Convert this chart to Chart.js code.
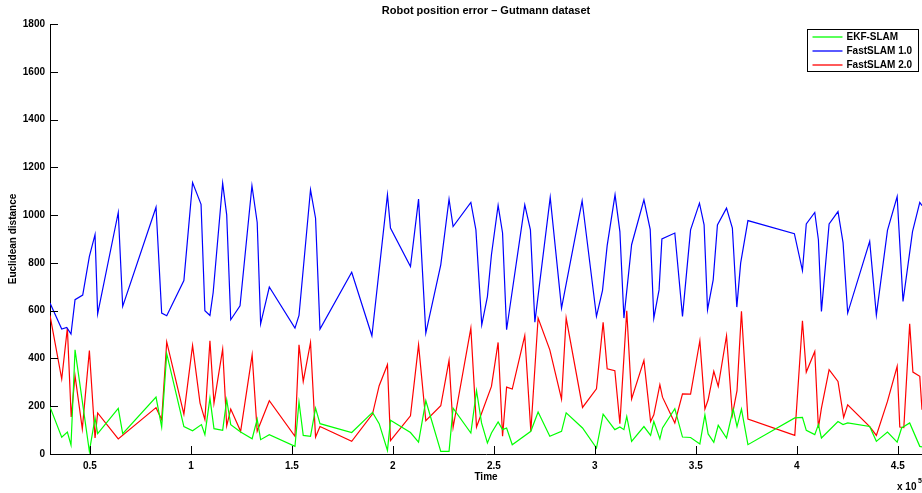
<!DOCTYPE html>
<html>
<head>
<meta charset="utf-8">
<script src="https://cdn.jsdelivr.net/npm/chart.js@4.4.1/dist/chart.umd.min.js"></script>
<style>
  html, body { margin: 0; padding: 0; background: #fff; }
  #wrap { width: 922px; height: 493px; }
</style>
</head>
<body>
<div id="wrap"><canvas id="errChart" width="922" height="493"></canvas></div>
<script>
// Time values are in units of 1e5
const xTicks = [0.5, 1, 1.5, 2, 2.5, 3, 3.5, 4, 4.5];
const yTicks = [0, 200, 400, 600, 800, 1000, 1200, 1400, 1600, 1800];

const ekfX = [0.302,0.36,0.388,0.406,0.426,0.497,0.525,0.538,0.64,0.662,0.827,0.855,0.88,0.965,1.008,1.052,1.069,1.094,1.114,1.157,1.177,1.197,1.246,1.303,1.328,1.345,1.388,1.515,1.535,1.556,1.592,1.617,1.639,1.796,1.899,1.932,1.973,1.988,2.087,2.127,2.163,2.237,2.278,2.298,2.386,2.414,2.439,2.468,2.488,2.521,2.543,2.563,2.591,2.683,2.719,2.777,2.835,2.858,2.939,3.008,3.041,3.099,3.124,3.144,3.158,3.182,3.243,3.276,3.292,3.322,3.335,3.396,3.434,3.474,3.52,3.545,3.561,3.589,3.611,3.652,3.685,3.704,3.726,3.758,3.99,4.028,4.047,4.089,4.107,4.122,4.204,4.229,4.252,4.361,4.394,4.449,4.497,4.519,4.559,4.609,4.62];
const ekfY = [197,70,92,38,436,11,151,85,191,85,238,113,420,115,97,123,81,234,106,99,227,123,92,64,146,60,81,32,218,78,74,192,127,90,174,127,15,141,90,50,223,11,11,192,88,265,130,46,88,134,102,109,39,95,176,74,95,172,109,25,167,102,113,102,157,53,115,78,136,63,109,190,71,69,42,164,84,49,120,67,188,115,188,39,151,153,99,81,123,67,136,123,130,115,53,92,50,109,130,32,30];

const fs1X = [0.302,0.36,0.385,0.406,0.426,0.464,0.497,0.525,0.538,0.64,0.662,0.827,0.855,0.88,0.965,1.008,1.05,1.069,1.094,1.11,1.157,1.177,1.197,1.243,1.302,1.328,1.345,1.388,1.515,1.535,1.592,1.617,1.639,1.796,1.896,1.973,1.988,2.087,2.127,2.163,2.237,2.278,2.298,2.386,2.411,2.44,2.468,2.488,2.521,2.543,2.563,2.653,2.681,2.703,2.779,2.835,2.937,3.008,3.038,3.061,3.1,3.124,3.144,3.182,3.243,3.274,3.292,3.318,3.332,3.396,3.434,3.474,3.518,3.541,3.558,3.586,3.607,3.652,3.681,3.703,3.722,3.758,3.988,4.028,4.047,4.089,4.107,4.122,4.16,4.204,4.229,4.252,4.361,4.394,4.449,4.497,4.526,4.573,4.609,4.62];
const fs1Y = [632,523,530,502,646,665,827,918,587,1011,618,1033,590,579,726,1136,1045,600,580,676,1134,1001,562,620,1123,969,545,699,527,580,1106,987,523,761,495,1085,946,785,1067,506,792,1067,952,1053,938,541,659,834,1041,925,520,1043,938,552,1074,611,1060,576,685,872,1085,931,569,876,1064,940,569,687,900,925,576,938,1050,959,604,729,959,1029,946,615,799,977,922,768,963,1011,897,597,963,1015,885,590,890,582,936,1078,639,931,1053,1040];

const fs2X = [0.302,0.36,0.388,0.407,0.426,0.462,0.497,0.525,0.538,0.64,0.827,0.855,0.88,0.965,1.008,1.045,1.069,1.094,1.114,1.157,1.177,1.197,1.246,1.303,1.328,1.388,1.515,1.535,1.556,1.592,1.617,1.639,1.796,1.899,1.932,1.973,1.988,2.087,2.127,2.163,2.237,2.278,2.298,2.386,2.414,2.488,2.521,2.543,2.563,2.591,2.653,2.683,2.719,2.777,2.835,2.858,2.939,3.008,3.041,3.061,3.099,3.124,3.158,3.182,3.243,3.276,3.292,3.322,3.335,3.396,3.434,3.474,3.52,3.545,3.561,3.589,3.611,3.652,3.681,3.704,3.726,3.758,3.99,4.028,4.047,4.089,4.107,4.122,4.16,4.204,4.232,4.252,4.361,4.394,4.449,4.497,4.51,4.53,4.559,4.575,4.609,4.62];
const fs2Y = [580,314,527,155,328,105,433,67,172,63,194,144,469,167,454,213,144,474,213,439,118,188,95,415,95,223,74,457,304,467,71,115,53,167,286,374,56,160,457,139,202,392,111,527,113,283,467,74,280,272,496,95,569,436,230,569,195,273,551,357,349,127,600,230,392,136,164,290,238,130,252,251,474,188,227,346,283,495,164,265,597,146,78,558,343,429,109,192,353,304,153,206,115,78,220,367,113,111,545,343,325,185];

const seriesNames = ['EKF-SLAM', 'FastSLAM 1.0', 'FastSLAM 2.0'];
const seriesColors = ['rgb(0,255,0)', 'rgb(0,0,255)', 'rgb(255,0,0)'];

const FONT = '"Liberation Sans", Arial, sans-serif';

function toPoints(xs, ys) {
    return xs.map((x, i) => ({ x: x, y: ys[i] }));
}

// draws inward ticks, title, axis labels, exponent and the legend box
const matlabLook = {
    id: 'matlabLook',
    afterDraw(chart) {
        const c = chart.ctx;
        const area = chart.chartArea;
        const xs = chart.scales.x;
        const ys = chart.scales.y;
        c.save();
        c.strokeStyle = '#000';
        c.lineWidth = 1;
        c.beginPath();
        xTicks.forEach(v => {
            const px = Math.round(xs.getPixelForValue(v)) + 0.5;
            c.moveTo(px, area.bottom);
            c.lineTo(px, area.bottom - 8);
        });
        yTicks.forEach(v => {
            const py = Math.round(ys.getPixelForValue(v)) + 0.5;
            c.moveTo(area.left, py);
            c.lineTo(area.left + 8, py);
        });
        c.stroke();

        c.fillStyle = '#000';
        c.textAlign = 'center';
        c.textBaseline = 'middle';
        c.font = 'bold 11px ' + FONT;
        c.fillText('Robot position error \u2013 Gutmann dataset', (area.left + area.right) / 2, 11);

        c.font = 'bold 10px ' + FONT;
        c.fillText('Time', (area.left + area.right) / 2, 477);

        c.save();
        c.translate(13, (area.top + area.bottom) / 2);
        c.rotate(-Math.PI / 2);
        c.fillText('Euclidean distance', 0, 0);
        c.restore();

        c.textAlign = 'left';
        c.fillText('x 10', 897, 487);
        c.font = 'bold 7px ' + FONT;
        c.fillText('5', 918, 481);

        // legend
        const lx = 807.5, ly = 29.5, lw = 111, lh = 42;
        c.fillStyle = '#fff';
        c.fillRect(lx, ly, lw, lh);
        c.strokeStyle = '#000';
        c.lineWidth = 1;
        c.strokeRect(lx, ly, lw, lh);
        c.font = 'bold 10px ' + FONT;
        for (let i = 0; i < seriesNames.length; i++) {
            const ry = 37 + i * 14;
            c.beginPath();
            c.strokeStyle = seriesColors[i];
            c.lineWidth = 1.3;
            c.moveTo(lx + 5, ry);
            c.lineTo(lx + 35, ry);
            c.stroke();
            c.fillStyle = '#000';
            c.fillText(seriesNames[i], lx + 39, ry);
        }
        c.restore();
    }
};

const chartCtx = document.getElementById('errChart').getContext('2d');
new Chart(chartCtx, {
    type: 'line',
    data: {
        datasets: [
            { label: seriesNames[0], data: toPoints(ekfX, ekfY), borderColor: seriesColors[0] },
            { label: seriesNames[1], data: toPoints(fs1X, fs1Y), borderColor: seriesColors[1] },
            { label: seriesNames[2], data: toPoints(fs2X, fs2Y), borderColor: seriesColors[2] }
        ]
    },
    options: {
        responsive: false,
        animation: false,
        devicePixelRatio: 1,
        layout: { padding: { top: 24, right: 0, left: 0, bottom: 0 } },
        elements: {
            line: { borderWidth: 1.2, tension: 0, fill: false },
            point: { radius: 0, hoverRadius: 0 }
        },
        plugins: {
            legend: { display: false },
            title: { display: false },
            tooltip: { enabled: false }
        },
        scales: {
            x: {
                type: 'linear',
                min: 0.302,
                max: 4.62,
                afterBuildTicks: s => { s.ticks = xTicks.map(v => ({ value: v })); },
                afterFit: s => { s.height = 39; },
                grid: { display: false, drawTicks: false },
                border: { display: true, color: '#000', width: 1 },
                ticks: {
                    padding: 6,
                    color: '#000',
                    font: { family: FONT, size: 10, weight: 'bold' },
                    maxRotation: 0,
                    autoSkip: false,
                    callback: v => String(v)
                }
            },
            y: {
                type: 'linear',
                min: 0,
                max: 1800,
                afterBuildTicks: s => { s.ticks = yTicks.map(v => ({ value: v })); },
                afterFit: s => { s.width = 50; },
                grid: { display: false, drawTicks: false },
                border: { display: true, color: '#000', width: 1 },
                ticks: {
                    padding: 5,
                    color: '#000',
                    font: { family: FONT, size: 10, weight: 'bold' },
                    autoSkip: false,
                    callback: v => String(v)
                }
            }
        }
    },
    plugins: [matlabLook]
});
</script>
</body>
</html>
